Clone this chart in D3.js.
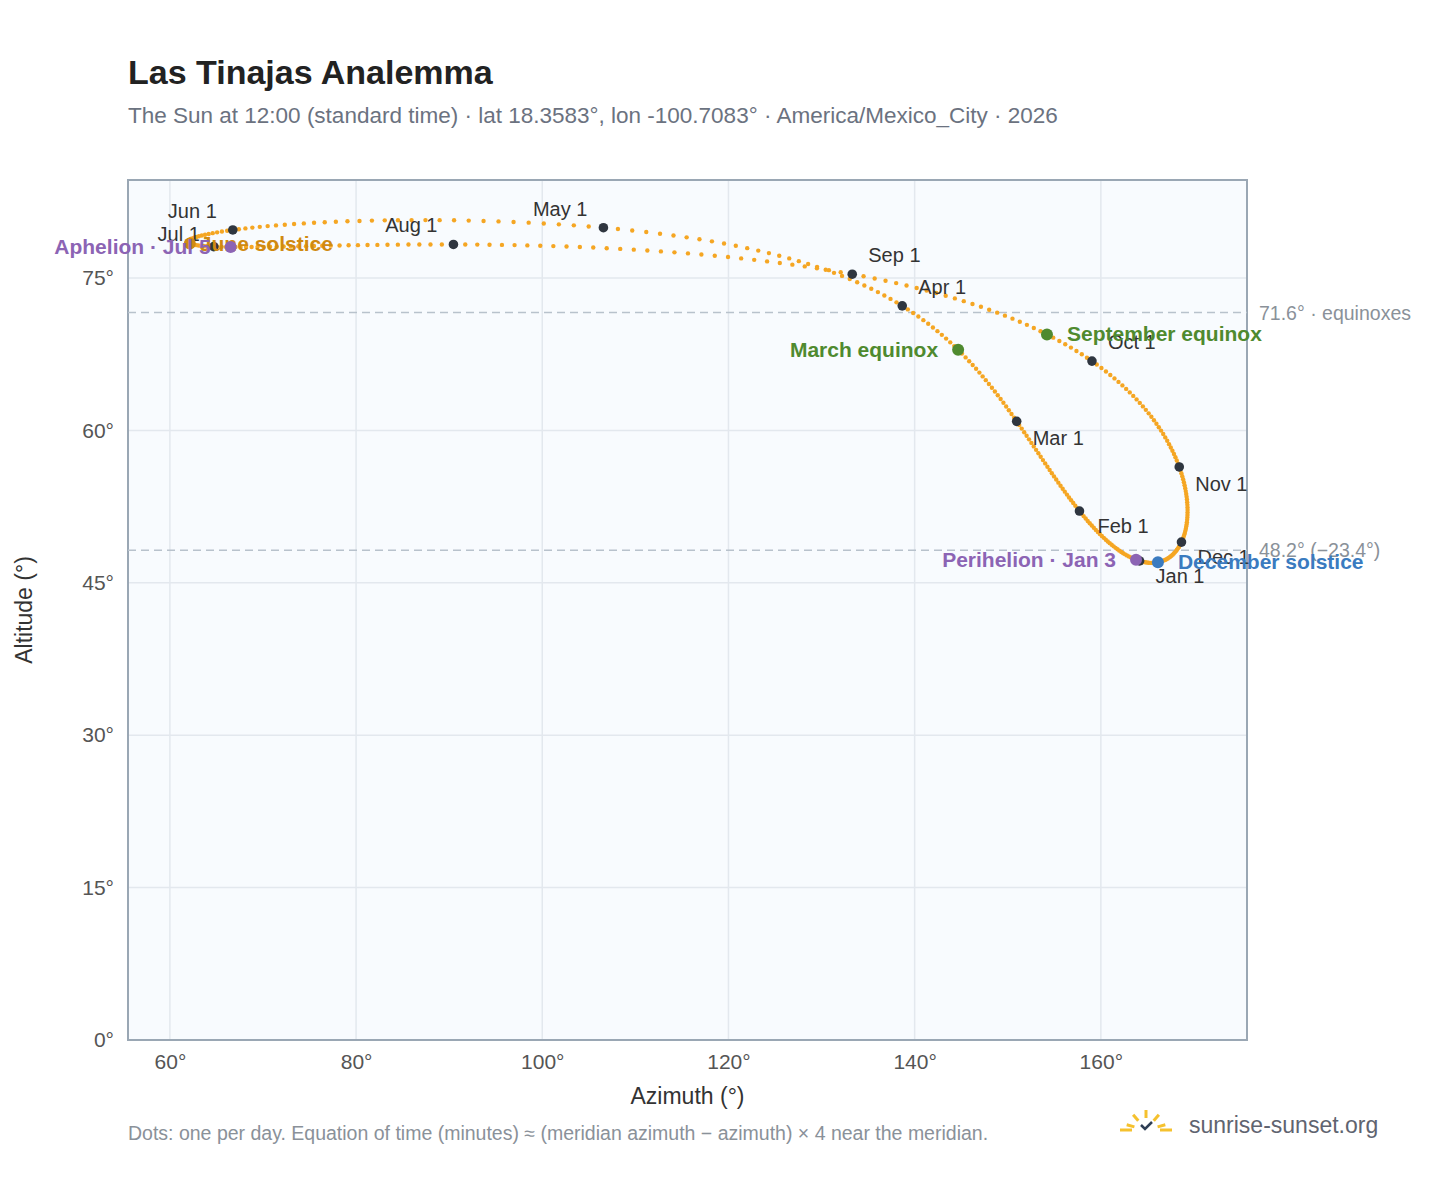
<!DOCTYPE html>
<html><head><meta charset="utf-8">
<script src="https://cdn.jsdelivr.net/npm/d3@7"></script>
<style>
body{margin:0;background:#fff;font-family:"Liberation Sans",Arial,sans-serif}
</style></head>
<body><div id="chart"></div>
<script>
// site + time
const site = {lat: 18.3583, lon: -100.7083, utcOffset: -6, clockHour: 12}
const year = 2026

const monthNames = ['Jan','Feb','Mar','Apr','May','Jun','Jul','Aug','Sep','Oct','Nov','Dec']
// label offsets for the month markers [dx, dy, anchor]
const monthLabelPos = [[16,22,'start'],[18,22,'start'],[16,24,'start'],[16,-12,'start'],[-16,-12,'end'],[-16,-12,'end'],
  [-14,-6,'end'],[-16,-12,'end'],[16,-12,'start'],[16,-12,'start'],[16,24,'start'],[16,22,'start']]

const events = [
  {name: 'March equinox', date: [2, 20], color: '#4f8a2f', dx: -20, dy: 7, anchor: 'end'},
  {name: 'June solstice', date: [5, 21], color: '#d08a10', dx: 10, dy: 7, anchor: 'start'},
  {name: 'September equinox', date: [8, 23], color: '#4f8a2f', dx: 20, dy: 7, anchor: 'start'},
  {name: 'December solstice', date: [11, 21], color: '#3a7bc0', dx: 20, dy: 7, anchor: 'start'},
  {name: 'Perihelion · Jan 3', date: [0, 3], color: '#8c64b4', dx: -20, dy: 7, anchor: 'end'},
  {name: 'Aphelion · Jul 5', date: [6, 5], color: '#8c64b4', dx: -20, dy: 7, anchor: 'end'}
]
const refLines = [{alt: 71.6, label: '71.6° · equinoxes'}, {alt: 48.2, label: '48.2° (−23.4°)'}]
const xTicks = [60, 80, 100, 120, 140, 160]
const yTicks = [0, 15, 30, 45, 60, 75]

// NOAA solar position, azimuth from north clockwise
function sunPos(date) {
  const rad = Math.PI / 180
  const jd = date.getTime() / 86400000 + 2440587.5
  const T = (jd - 2451545) / 36525
  const L0 = (280.46646 + T * (36000.76983 + T * 0.0003032)) % 360
  const M = 357.52911 + T * (35999.05029 - 0.0001537 * T)
  const e = 0.016708634 - T * (0.000042037 + 0.0000001267 * T)
  const C = Math.sin(M * rad) * (1.914602 - T * (0.004817 + 0.000014 * T)) +
    Math.sin(2 * M * rad) * (0.019993 - 0.000101 * T) + Math.sin(3 * M * rad) * 0.000289
  const om = 125.04 - 1934.136 * T
  const lam = L0 + C - 0.00569 - 0.00478 * Math.sin(om * rad)
  const eps0 = 23 + (26 + (21.448 - T * (46.815 + T * (0.00059 - T * 0.001813))) / 60) / 60
  const eps = eps0 + 0.00256 * Math.cos(om * rad)
  const decl = Math.asin(Math.sin(eps * rad) * Math.sin(lam * rad))
  const y = Math.tan(eps * rad / 2) ** 2
  const eot = 4 / rad * (y * Math.sin(2 * L0 * rad) - 2 * e * Math.sin(M * rad) +
    4 * e * y * Math.sin(M * rad) * Math.cos(2 * L0 * rad) - 0.5 * y * y * Math.sin(4 * L0 * rad) -
    1.25 * e * e * Math.sin(2 * M * rad))
  const utcMin = date.getUTCHours() * 60 + date.getUTCMinutes()
  const tst = utcMin + eot + 4 * site.lon
  const ha = (tst / 4 - 180) * rad
  const lat = site.lat * rad
  const cz = Math.sin(lat) * Math.sin(decl) + Math.cos(lat) * Math.cos(decl) * Math.cos(ha)
  const zen = Math.acos(cz)
  let az = Math.atan2(Math.sin(ha), Math.cos(ha) * Math.sin(lat) - Math.tan(decl) * Math.cos(lat)) / rad + 180
  return {az: (az + 360) % 360, alt: 90 - zen / rad}
}
const at = (m, d) => sunPos(new Date(Date.UTC(year, m, d, site.clockHour - site.utcOffset)))

const days = d3.utcDays(new Date(Date.UTC(year, 0, 1)), new Date(Date.UTC(year + 1, 0, 1)))
  .map(d => at(d.getUTCMonth(), d.getUTCDate()))
const months = monthNames.map((n, i) => ({name: n + ' 1', ...at(i, 1), pos: monthLabelPos[i]}))

const W = 1448, H = 1188
const m = {l: 128, r: 1247, t: 180, b: 1040}
const svg = d3.select('#chart').append('svg').attr('width', W).attr('height', H)

const x = d3.scaleLinear().domain([55.5, 175.7]).range([m.l, m.r])
const y = d3.scaleLinear().domain([0, 84.65]).range([m.b, m.t])

svg.append('text').attr('x', 128).attr('y', 84).attr('font-size', 34).attr('font-weight', 'bold')
  .attr('fill', '#222').text('Las Tinajas Analemma')
svg.append('text').attr('x', 128).attr('y', 123).attr('font-size', 22.5).attr('fill', '#6b7280')
  .text('The Sun at 12:00 (standard time) · lat 18.3583°, lon -100.7083° · America/Mexico_City · 2026')

svg.append('rect').attr('x', m.l).attr('y', m.t).attr('width', m.r - m.l).attr('height', m.b - m.t)
  .attr('fill', '#f8fbfe')

svg.selectAll('.gx').data(xTicks).enter().append('line')
  .attr('x1', d => x(d)).attr('x2', d => x(d)).attr('y1', m.t).attr('y2', m.b)
  .attr('stroke', '#e3e8ee').attr('stroke-width', 1.5)
svg.selectAll('.gy').data(yTicks).enter().append('line')
  .attr('y1', d => y(d)).attr('y2', d => y(d)).attr('x1', m.l).attr('x2', m.r)
  .attr('stroke', '#e3e8ee').attr('stroke-width', 1.5)

svg.append('rect').attr('x', m.l).attr('y', m.t).attr('width', m.r - m.l).attr('height', m.b - m.t)
  .attr('fill', 'none').attr('stroke', '#9aa7b4').attr('stroke-width', 2)

svg.append('g').attr('transform', `translate(0,${m.b})`)
  .call(d3.axisBottom(x).tickValues(xTicks).tickFormat(d => d + '°').tickSize(0).tickPadding(14))
  .call(g => g.select('.domain').remove())
  .selectAll('text').attr('font-size', 21).attr('fill', '#555').attr('font-family', 'Liberation Sans, Arial')
svg.append('g').attr('transform', `translate(${m.l},0)`)
  .call(d3.axisLeft(y).tickValues(yTicks).tickFormat(d => d + '°').tickSize(0).tickPadding(14))
  .call(g => g.select('.domain').remove())
  .selectAll('text').attr('font-size', 21).attr('fill', '#555').attr('font-family', 'Liberation Sans, Arial')

svg.append('text').attr('x', (m.l + m.r) / 2).attr('y', 1104).attr('text-anchor', 'middle')
  .attr('font-size', 23).attr('fill', '#333').text('Azimuth (°)')
svg.append('text').attr('transform', `translate(32,${(m.t + m.b) / 2}) rotate(-90)`).attr('text-anchor', 'middle')
  .attr('font-size', 23).attr('fill', '#333').text('Altitude (°)')

refLines.forEach(r => {
  svg.append('line').attr('x1', m.l).attr('x2', m.r).attr('y1', y(r.alt)).attr('y2', y(r.alt))
    .attr('stroke', '#b8c2cc').attr('stroke-width', 1.5).attr('stroke-dasharray', '8,5')
  svg.append('text').attr('x', m.r + 12).attr('y', y(r.alt) + 7).attr('font-size', 19.5).attr('fill', '#8a9199')
    .text(r.label)
})

svg.selectAll('.day').data(days).enter().append('circle')
  .attr('cx', d => x(d.az)).attr('cy', d => y(d.alt)).attr('r', 2.2).attr('fill', '#f5a623')

svg.selectAll('.mon').data(months).enter().append('circle')
  .attr('cx', d => x(d.az)).attr('cy', d => y(d.alt)).attr('r', 4.8).attr('fill', '#2f3640')
svg.selectAll('.monl').data(months).enter().append('text')
  .attr('x', d => x(d.az) + d.pos[0]).attr('y', d => y(d.alt) + d.pos[1]).attr('text-anchor', d => d.pos[2])
  .attr('font-size', 20).attr('fill', '#333').text(d => d.name)

events.forEach(ev => {
  const p = at(ev.date[0], ev.date[1])
  svg.append('circle').attr('cx', x(p.az)).attr('cy', y(p.alt)).attr('r', 6).attr('fill', ev.color)
  svg.append('text').attr('x', x(p.az) + ev.dx).attr('y', y(p.alt) + ev.dy).attr('text-anchor', ev.anchor)
    .attr('font-size', 21).attr('font-weight', 'bold').attr('fill', ev.color).text(ev.name)
})

svg.append('text').attr('x', 128).attr('y', 1140).attr('font-size', 19.5).attr('fill', '#8a9199')
  .text('Dots: one per day. Equation of time (minutes) ≈ (meridian azimuth − azimuth) × 4 near the meridian.')

// logo
const logo = svg.append('g').attr('transform', 'translate(1146,1130)')
;[-75, -40, 0, 40, 75].forEach(a => {
  const r = a * Math.PI / 180
  logo.append('line').attr('x1', 12 * Math.sin(r)).attr('y1', -12 * Math.cos(r))
    .attr('x2', 20 * Math.sin(r)).attr('y2', -20 * Math.cos(r)).attr('stroke', '#f5c12e').attr('stroke-width', 3)
})
logo.append('path').attr('d', 'M-26,0 H-14 M14,0 H26').attr('stroke', '#f5c12e').attr('stroke-width', 3)
logo.append('path').attr('d', 'M-5,-5 L-1,-1 L6,-8').attr('stroke', '#2f3f55').attr('stroke-width', 2.5).attr('fill', 'none')
svg.append('text').attr('x', 1189).attr('y', 1133).attr('font-size', 23).attr('fill', '#5f6470').text('sunrise-sunset.org')
</script>
</body></html>
